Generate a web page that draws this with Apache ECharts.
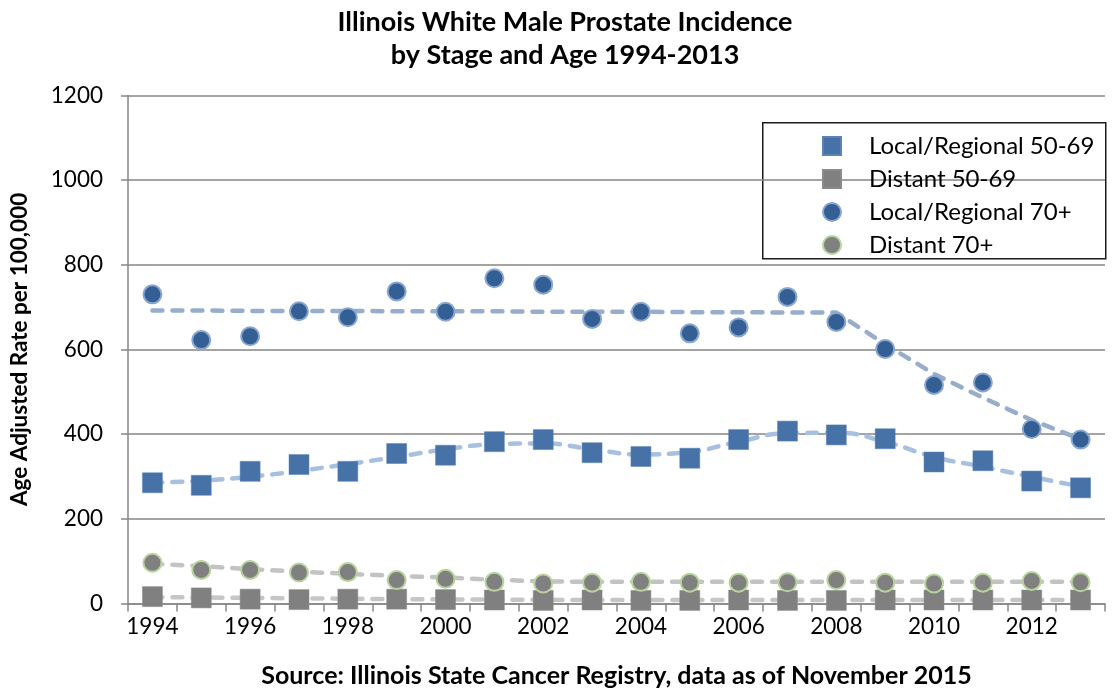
<!DOCTYPE html>
<html>
<head>
<meta charset="utf-8">
<script src="https://cdn.jsdelivr.net/npm/echarts@6/dist/echarts.min.js"></script>
<style>
html,body{margin:0;padding:0;background:#fff;}
#chart{width:1114px;height:694px;}
</style>
</head>
<body>
<div id="chart"></div>
<script>
const years = ['1994','1995','1996','1997','1998','1999','2000','2001','2002','2003','2004','2005','2006','2007','2008','2009','2010','2011','2012','2013'];
const yTicks = [0, 200, 400, 600, 800, 1000, 1200];

const localRegional5069 = [285, 279, 312, 328, 312, 354, 350, 382, 387, 356, 347, 343, 387, 407, 398, 389, 334, 337, 289, 273];
const distant5069 = [16, 13, 10, 9, 10, 10, 9, 8, 7, 8, 7, 7, 8, 7, 7, 8, 8, 8, 8, 8];
const localRegional70 = [730, 622, 631, 690, 676, 737, 689, 768, 753, 672, 689, 638, 652, 724, 665, 601, 516, 522, 412, 387];
const distant70 = [96, 79, 79, 73, 74, 55, 58, 51, 47, 49, 51, 49, 49, 50, 55, 49, 47, 49, 53, 50];

const trendLR5069 = [285, 290, 299, 313, 329, 346, 364, 376, 378, 364, 352, 358, 382, 402, 403, 382, 346, 323, 299, 276];
const trendDist5069 = [15, 14, 13, 12, 11, 10, 9.5, 9, 8.5, 8, 8, 8, 8, 8, 8, 8, 8, 8, 8, 8];
const trendLR70 = [692, 692, 691, 691, 691, 690, 690, 690, 689, 689, 689, 688, 688, 687, 687, 612, 542, 486, 433, 388];
const trendDist70 = [94, 88, 81, 75, 70, 65, 61, 56, 52, 51, 51, 51, 51, 51, 51, 51, 51, 51, 51, 51];

const names = ['Local/Regional 50-69', 'Distant 50-69', 'Local/Regional 70+', 'Distant 70+'];
const FONT = 'Lato, "Open Sans", sans-serif';

const chart = echarts.init(document.getElementById('chart'));

function trend(data, color, smooth) {
  return {
    type: 'line', data: data, showSymbol: false, symbol: 'none', smooth: smooth,
    silent: true, z: 2,
    lineStyle: { color: color, width: 4.5, type: [10, 10], cap: 'round' }
  };
}

chart.setOption({
  animation: false,
  backgroundColor: '#fff',
  title: {
    text: 'Illinois White Male Prostate Incidence\nby Stage and Age 1994-2013',
    left: 560, textAlign: 'center', top: 1,
    textStyle: { fontFamily: FONT, fontWeight: 'bold', fontSize: 27, lineHeight: 33, color: '#000' }
  },
  graphic: [{
    type: 'rect', left: 762, top: 122, z: 0,
    shape: { width: 343, height: 136 },
    style: { fill: '#fff', stroke: '#1a1a1a', lineWidth: 1.5 }
  }],
  legend: {
    data: names, orient: 'vertical', left: 817, top: 129,
    itemWidth: 18, itemHeight: 18, itemGap: 9,
    textStyle: { fontFamily: FONT, fontSize: 24, color: '#000', padding: [0, 0, 0, 23], lineHeight: 24 }
  },
  grid: { left: 127, right: 9, top: 95.4, bottom: 90.6, containLabel: false },
  xAxis: {
    type: 'category', data: years, boundaryGap: true,
    name: 'Source: Illinois State Cancer Registry, data as of November 2015',
    nameLocation: 'middle', nameGap: 60,
    nameTextStyle: { fontFamily: FONT, fontWeight: 'bold', fontSize: 25, color: '#000' },
    axisLine: { lineStyle: { color: '#868686', width: 1.5 } },
    axisTick: { show: true, interval: 0, length: 8, lineStyle: { color: '#868686', width: 1.5 } },
    axisLabel: { interval: 1, margin: 12, fontFamily: FONT, fontSize: 22.5, color: '#000' },
    splitLine: { show: false }
  },
  yAxis: {
    type: 'value', min: yTicks[0], max: yTicks[yTicks.length - 1], interval: 200,
    name: 'Age Adjusted Rate per 100,000', nameLocation: 'middle', nameGap: 97, nameRotate: 90,
    nameTextStyle: { fontFamily: FONT, fontWeight: 'bold', fontSize: 22.5, color: '#000' },
    axisLine: { show: true, lineStyle: { color: '#868686', width: 1.5 } },
    axisTick: { show: true, length: 7, lineStyle: { color: '#868686', width: 1.5 } },
    axisLabel: { margin: 25, fontFamily: FONT, fontSize: 22.5, color: '#000', formatter: function (v) { return String(v); } },
    splitLine: { show: true, lineStyle: { color: '#868686', width: 1.5 } }
  },
  series: [
    trend(trendLR5069, '#a7c0df', true),
    trend(trendLR70, '#97adca', false),
    trend(trendDist70, '#c3c3c3', false),
    trend(trendDist5069, '#c6c6c6', false),
    {
      name: names[0], type: 'scatter', data: localRegional5069, symbol: 'rect', symbolSize: 20, z: 5,
      itemStyle: { color: '#4672a8', borderColor: '#5b84b6', borderWidth: 0.5, opacity: 1 }
    },
    {
      name: names[1], type: 'scatter', data: distant5069, symbol: 'rect', symbolSize: 20, z: 5,
      itemStyle: { color: '#808080', borderColor: '#8a8a8a', borderWidth: 0.5, opacity: 1 }
    },
    {
      name: names[2], type: 'scatter', data: localRegional70, symbol: 'circle', symbolSize: 18, z: 5,
      itemStyle: { color: '#345f94', borderColor: '#88a6d0', borderWidth: 2, opacity: 1 }
    },
    {
      name: names[3], type: 'scatter', data: distant70, symbol: 'circle', symbolSize: 18, z: 5,
      itemStyle: { color: '#808080', borderColor: '#b8d49c', borderWidth: 2, opacity: 1 }
    }
  ]
});
</script>
</body>
</html>
